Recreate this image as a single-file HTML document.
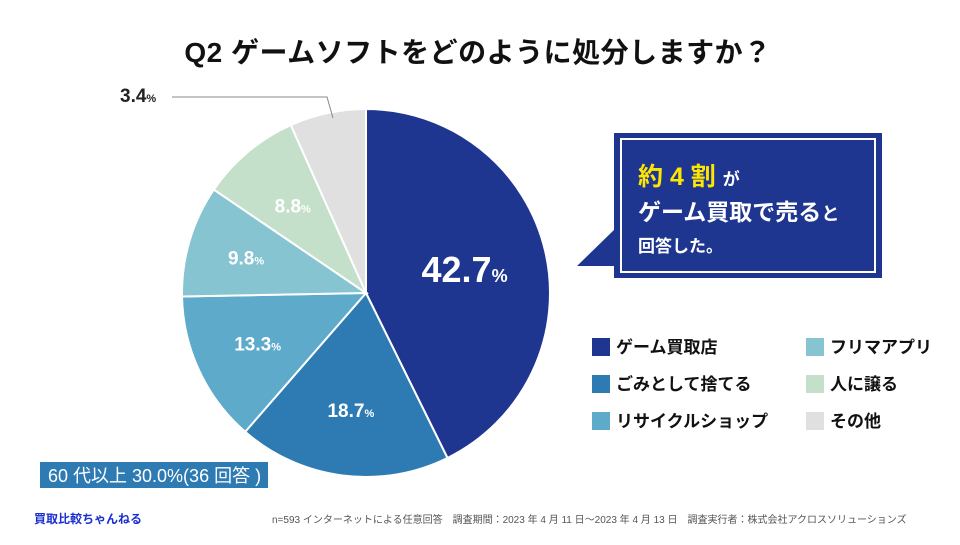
<!DOCTYPE html>
<html><head><meta charset="utf-8"><style>
body{margin:0;width:960px;height:540px;background:#fff;overflow:hidden;font-family:"Liberation Sans","Noto Sans CJK JP",sans-serif;}
svg text{font-family:"Liberation Sans","Noto Sans CJK JP",sans-serif;}
</style></head><body>
<svg width="960" height="540">
<text x="478" y="62" text-anchor="middle" font-size="28" font-weight="bold" fill="#111" letter-spacing="0.5">Q2  ゲームソフトをどのように処分しますか？</text>
<g id="pie"></g>
<g id="labels"></g>
<polyline points="172,97 327,97 333,118" fill="none" stroke="#888" stroke-width="1"/>
<g>
<polygon points="577,266 616,228 616,266" fill="#1f3690"/>
<rect x="614" y="133" width="268" height="145" fill="#1f3690"/>
<rect x="621" y="139" width="254" height="133" fill="none" stroke="#fff" stroke-width="2"/>
<text x="638" y="185" font-size="25" font-weight="bold" fill="#ffe600">約 4 割 <tspan font-size="17" fill="#fff">が</tspan></text>
<text x="638" y="220" font-size="23" font-weight="bold" fill="#fff">ゲーム買取で売る<tspan font-size="18">と</tspan></text>
<text x="638" y="252" font-size="17" font-weight="bold" fill="#fff">回答した。</text>
</g>
<g id="legend"></g>
<rect x="40" y="462" width="228" height="26" fill="#2e7bb4"/>
<text x="48" y="482" font-size="18" fill="#fff">60 代以上 30.0%(36 回答 )</text>
<text x="34" y="523" font-size="12" font-weight="bold" fill="#1a2fd0">買取比較ちゃんねる</text>
<text x="272" y="523" font-size="10" fill="#555">n=593 インターネットによる任意回答　調査期間：2023 年 4 月 11 日～2023 年 4 月 13 日　調査実行者：株式会社アクロスソリューションズ</text>
</svg>
<script>
const categories=["ゲーム買取店","ごみとして捨てる","リサイクルショップ","フリマアプリ","人に譲る","その他"];
const values=[42.7,18.7,13.3,9.8,8.8,6.7];
const valueLabels=["42.7","18.7","13.3","9.8","8.8","3.4"];
const colors=["#1f3690","#2e7bb4","#5eaacb","#86c4d2","#c4e0cb","#e0e0e0"];
const cx=366,cy=293,r=184;
const NS="http://www.w3.org/2000/svg";
const total=values.reduce((a,b)=>a+b,0);
const ang=v=>v/total*Math.PI*2;
const pt=(a,rr)=>[cx+rr*Math.sin(a),cy-rr*Math.cos(a)];
const pie=document.getElementById('pie'),lab=document.getElementById('labels');
const labelR=[0.55,0.64,0.65,0.68,0.62];
let a0=0;
values.forEach((v,i)=>{
 const a1=a0+ang(v);
 const p0=pt(a0,r),p1=pt(a1,r);
 const p=document.createElementNS(NS,'path');
 p.setAttribute('d',`M${cx},${cy}L${p0[0]},${p0[1]}A${r},${r} 0 ${a1-a0>Math.PI?1:0} 1 ${p1[0]},${p1[1]}Z`);
 p.setAttribute('fill',colors[i]);p.setAttribute('stroke','#fff');p.setAttribute('stroke-width','2');
 
 
 pie.appendChild(p);
 const big=i===0;
 let lp=pt((a0+a1)/2,r*(labelR[i]||0.65));
 if(i===values.length-1){lp=[120,95];}
 const t=document.createElementNS(NS,'text');
 t.setAttribute('x',lp[0]);t.setAttribute('y',lp[1]+(big?12:7));
 t.setAttribute('text-anchor',i===values.length-1?'start':'middle');
 t.setAttribute('font-weight','bold');t.setAttribute('font-size',big?36:19);
 t.setAttribute('fill',i===values.length-1?'#222':'#fff');
 t.innerHTML=valueLabels[i]+`<tspan font-size="${big?18:11}">%</tspan>`;
 
 
 lab.appendChild(t);
 a0=a1;
});
const lg=document.getElementById('legend');
const order=[0,1,2,3,4,5];
order.forEach((ci,k)=>{
 const col=k<3?0:1,row=k%3;
 const x=col?806:592,y=338+row*37;
 const s=document.createElementNS(NS,'rect');
 s.setAttribute('x',x);s.setAttribute('y',y);s.setAttribute('width',18);s.setAttribute('height',18);s.setAttribute('fill',colors[ci]);
 
 
 lg.appendChild(s);
 const t=document.createElementNS(NS,'text');
 t.setAttribute('x',x+24);t.setAttribute('y',y+15);t.setAttribute('font-size',17);t.setAttribute('font-weight','bold');t.setAttribute('fill','#111');
 t.textContent=categories[ci];
 
 
 lg.appendChild(t);
});
</script>
</body></html>
